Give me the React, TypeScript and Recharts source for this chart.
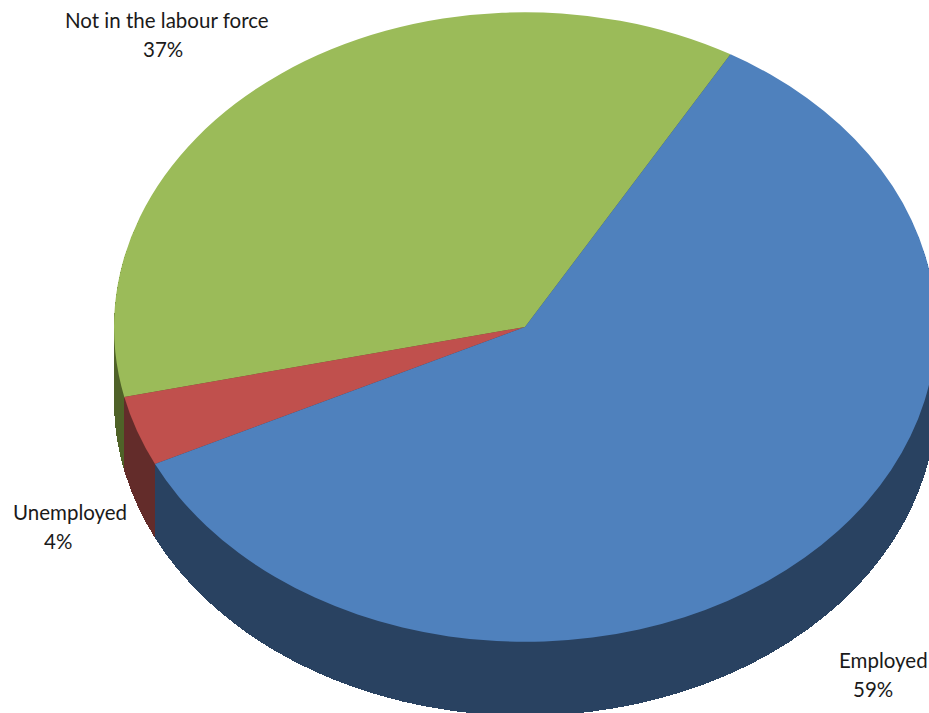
import { PieChart, Pie, Cell } from 'recharts';

const CATEGORIES = ['Not in the labour force', 'Unemployed', 'Employed'];
const SHARES = [36.9, 3.6, 59.5];
const LABELS = ['37%', '4%', '59%'];

const TOP_COLORS = ['#9BBB59', '#C0504D', '#4F81BD'];
const SIDE_COLORS = ['#4F6228', '#632C2A', '#294261'];

const data = CATEGORIES.map((name, i) => ({ name, value: SHARES[i] }));

// the 3d look: flatten a round pie with scaleY, stack dark copies below it
const TILT = 0.766;
const DEPTH = 74;
const CX = 525;
const CY = 327;
const RADIUS = 411;
const START = 60;

const layers = Array.from({ length: DEPTH }, (_, i) => DEPTH - i);

const labelStyle = {
  position: 'absolute',
  fontFamily: 'Lato, "Open Sans", sans-serif',
  fontSize: 20.5,
  lineHeight: '29px',
  color: '#1a1a1a',
  textAlign: 'left',
  whiteSpace: 'nowrap',
} as const;

export default function App() {
  return (
    <div style={{ position: 'fixed', left: 0, top: 0, width: 929, height: 713, overflow: 'hidden', background: '#fff' }}>
      <div style={{ transform: `scaleY(${TILT})`, transformOrigin: '0 0', width: 1000, height: 1100 }}>
        <PieChart width={1000} height={1100} margin={{ top: 0, right: 0, bottom: 0, left: 0 }}>
          {layers.map((offset) => (
            <Pie
              key={offset}
              data={data}
              dataKey="value"
              cx={CX}
              cy={(CY + offset) / TILT}
              outerRadius={RADIUS}
              startAngle={START}
              endAngle={START + 360}
              stroke="none"
              shapeRendering="crispEdges"
              isAnimationActive={false}
            >
              {data.map((d, i) => (
                <Cell key={d.name} fill={SIDE_COLORS[i]} shapeRendering="crispEdges" />
              ))}
            </Pie>
          ))}
          <Pie
            data={data}
            dataKey="value"
            cx={CX}
            cy={CY / TILT}
            outerRadius={RADIUS}
            startAngle={START}
            endAngle={START + 360}
            stroke="none"
            isAnimationActive={false}
          >
            {data.map((d, i) => (
              <Cell key={d.name} fill={TOP_COLORS[i]} />
            ))}
          </Pie>
        </PieChart>
      </div>
      <div style={{ ...labelStyle, left: 65, top: 6 }}>
        {CATEGORIES[0]}
        <br />
        <span style={{ marginLeft: 78 }}>{LABELS[0]}</span>
      </div>
      <div style={{ ...labelStyle, left: 13, top: 498 }}>
        {CATEGORIES[1]}
        <br />
        <span style={{ marginLeft: 31 }}>{LABELS[1]}</span>
      </div>
      <div style={{ ...labelStyle, left: 839, top: 646 }}>
        {CATEGORIES[2]}
        <br />
        <span style={{ marginLeft: 14 }}>{LABELS[2]}</span>
      </div>
    </div>
  );
}
